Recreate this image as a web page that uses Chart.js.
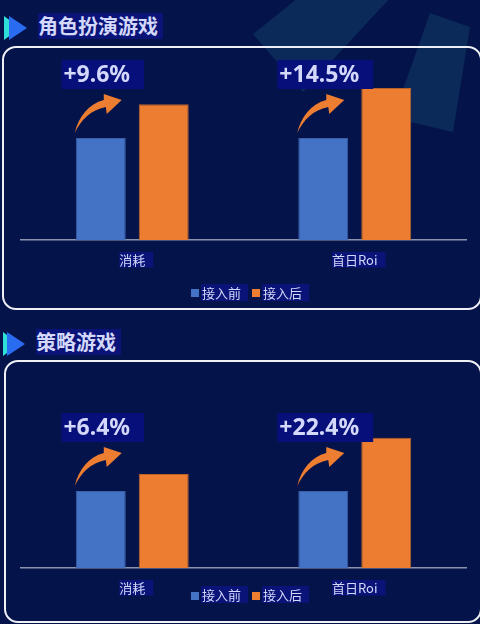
<!DOCTYPE html>
<html><head><meta charset="utf-8">
<script src="https://cdn.jsdelivr.net/npm/chart.js@4.4.0/dist/chart.umd.min.js"></script>
<style>
html,body{margin:0;padding:0;width:480px;height:624px;overflow:hidden;background:#041349;font-family:"Noto Sans CJK SC","Noto Sans",sans-serif;}
#deco{position:absolute;left:0;top:0;}
.panel{position:absolute;border:2px solid #eef0f6;border-radius:14px;box-sizing:border-box;}
.icon{position:absolute;}
.title{position:absolute;background:#0a1478;color:#d4d8fa;font-weight:bold;font-size:20px;line-height:26px;height:26px;padding:0 5px 0 0;white-space:nowrap;}
.chartbox{position:absolute;left:0;width:480px;height:312px;}
.legend{position:absolute;left:0;width:480px;height:18px;}
.sq{position:absolute;width:8px;height:8px;}
.lt{position:absolute;background:#0a1478;color:#d4d8fa;font-size:13px;line-height:17px;height:17px;padding:0 7px 0 1px;white-space:nowrap;}
</style>
</head><body>
<svg id="deco" width="480" height="624">
  <polygon points="253,34 318,-18 392,-4 303,92" fill="#0b2a5a"/>
  <polygon points="430,13 470,27 453,132 393,118" fill="#0b2a5a"/>
</svg>

<svg class="icon" style="left:0;top:12px" width="32" height="32">
  <polygon points="4,4 4,28 20,16" fill="#2ee0d8"/>
  <polygon points="9,4 9,28 27,16" fill="#2a6cf0"/>
</svg>
<div class="title" style="left:38px;top:13px">角色扮演游戏</div>
<div class="panel" style="left:2px;top:46px;width:480px;height:264px"></div>
<div class="chartbox" style="top:0"><canvas id="c1" width="480" height="312"></canvas></div>
<div class="legend" style="top:284px">
  <div class="sq" style="left:191px;top:5px;background:#4472c4"></div>
  <div class="lt" style="left:201px;top:0">接入前</div>
  <div class="sq" style="left:252px;top:5px;background:#ed7d31"></div>
  <div class="lt" style="left:262px;top:0">接入后</div>
</div>

<svg class="icon" style="left:0;top:328px" width="32" height="32">
  <polygon points="3,4 3,28 19,16" fill="#2ee0d8"/>
  <polygon points="7,4 7,28 25,16" fill="#2a6cf0"/>
</svg>
<div class="title" style="left:36px;top:329px">策略游戏</div>
<div class="panel" style="left:4px;top:360px;width:478px;height:263px"></div>
<div class="chartbox" style="top:312px"><canvas id="c2" width="480" height="312"></canvas></div>
<div class="legend" style="top:586px">
  <div class="sq" style="left:191px;top:6px;background:#4472c4"></div>
  <div class="lt" style="left:201px;top:0">接入前</div>
  <div class="sq" style="left:252px;top:6px;background:#ed7d31"></div>
  <div class="lt" style="left:262px;top:0">接入后</div>
</div>

<script>
// ---- data ----
const categories = ["消耗", "首日Roi"];
const seriesNames = ["接入前", "接入后"];
// 角色扮演游戏 (relative bar heights)
const rpgBefore = [100, 100];
const rpgAfter = [133, 149];
const rpgGrowth = ["+9.6%", "+14.5%"];
// 策略游戏
const slgBefore = [100, 100];
const slgAfter = [122, 169];
const slgGrowth = ["+6.4%", "+22.4%"];
const yMax = 200;

const BLUE = "#4472c4", ORANGE = "#ed7d31";

const arrowLabel = {
  id: "arrowLabel",
  afterDatasetsDraw(chart, args, opts) {
    const ctx = chart.ctx;
    const meta = chart.getDatasetMeta(0);
    meta.data.forEach((bar, i) => {
      const x = bar.x, y = bar.y;
      const l = x - bar.width / 2;
      ctx.save();
      // curved arrow
      ctx.fillStyle = ORANGE;
      ctx.beginPath();
      ctx.moveTo(l - 1, y - 5);
      ctx.bezierCurveTo(l + 3, y - 22, l + 13, y - 34, l + 28, y - 38);
      ctx.lineTo(l + 28, y - 44);
      ctx.lineTo(l + 46, y - 38);
      ctx.lineTo(l + 31, y - 24);
      ctx.lineTo(l + 30, y - 31);
      ctx.bezierCurveTo(l + 15, y - 28, l + 5, y - 18, l - 1, y - 5);
      ctx.closePath();
      ctx.fill();
      // growth label
      ctx.font = 'bold 23px "Noto Sans","Noto Sans CJK SC",sans-serif';
      const t = opts.labels[i];
      const w = ctx.measureText(t).width;
      const tx = x - 4 - w / 2;
      ctx.fillStyle = "#07107a";
      ctx.fillRect(tx - 2, y - 78, w + 16, 29);
      ctx.fillStyle = "#d4d8fa";
      ctx.textBaseline = "middle";
      ctx.textAlign = "left";
      ctx.fillText(t, tx, y - 78 + 15);
      ctx.restore();
    });
  }
};

function makeChart(id, before, after, growth, padTop, padBottom) {
  return new Chart(document.getElementById(id), {
    type: "bar",
    data: {
      labels: categories,
      datasets: [
        { label: seriesNames[0], data: before, backgroundColor: BLUE, borderColor: "#3a5fa8", borderWidth: 1 },
        { label: seriesNames[1], data: after, backgroundColor: ORANGE, borderColor: "#b8622a", borderWidth: 1 }
      ]
    },
    options: {
      responsive: false,
      animation: false,
      events: [],
      layout: { padding: { left: 21, right: 14, top: padTop, bottom: padBottom } },
      datasets: { bar: { categoryPercentage: 0.566, barPercentage: 0.794 } },
      plugins: {
        legend: { display: false },
        tooltip: { enabled: false },
        arrowLabel: { labels: growth }
      },
      scales: {
        x: {
          grid: { display: false, drawTicks: false },
          border: { display: true, color: "#8d93ad", width: 1.5 },
          ticks: {
            color: "#d4d8fa",
            font: { size: 13, family: '"Noto Sans CJK SC","Noto Sans",sans-serif' },
            padding: 12,
            showLabelBackdrop: true,
            backdropColor: "#0a1478",
            backdropPadding: { left: 0, right: 8, top: 0, bottom: 0 }
          },
          afterFit(scale) { scale.height = 40; }
        },
        y: { display: false, min: 0, max: yMax }
      }
    },
    plugins: [arrowLabel]
  });
}

makeChart("c1", rpgBefore, rpgAfter, rpgGrowth, 36, 32);
makeChart("c2", slgBefore, slgAfter, slgGrowth, 102, 16);
</script>
</body></html>
